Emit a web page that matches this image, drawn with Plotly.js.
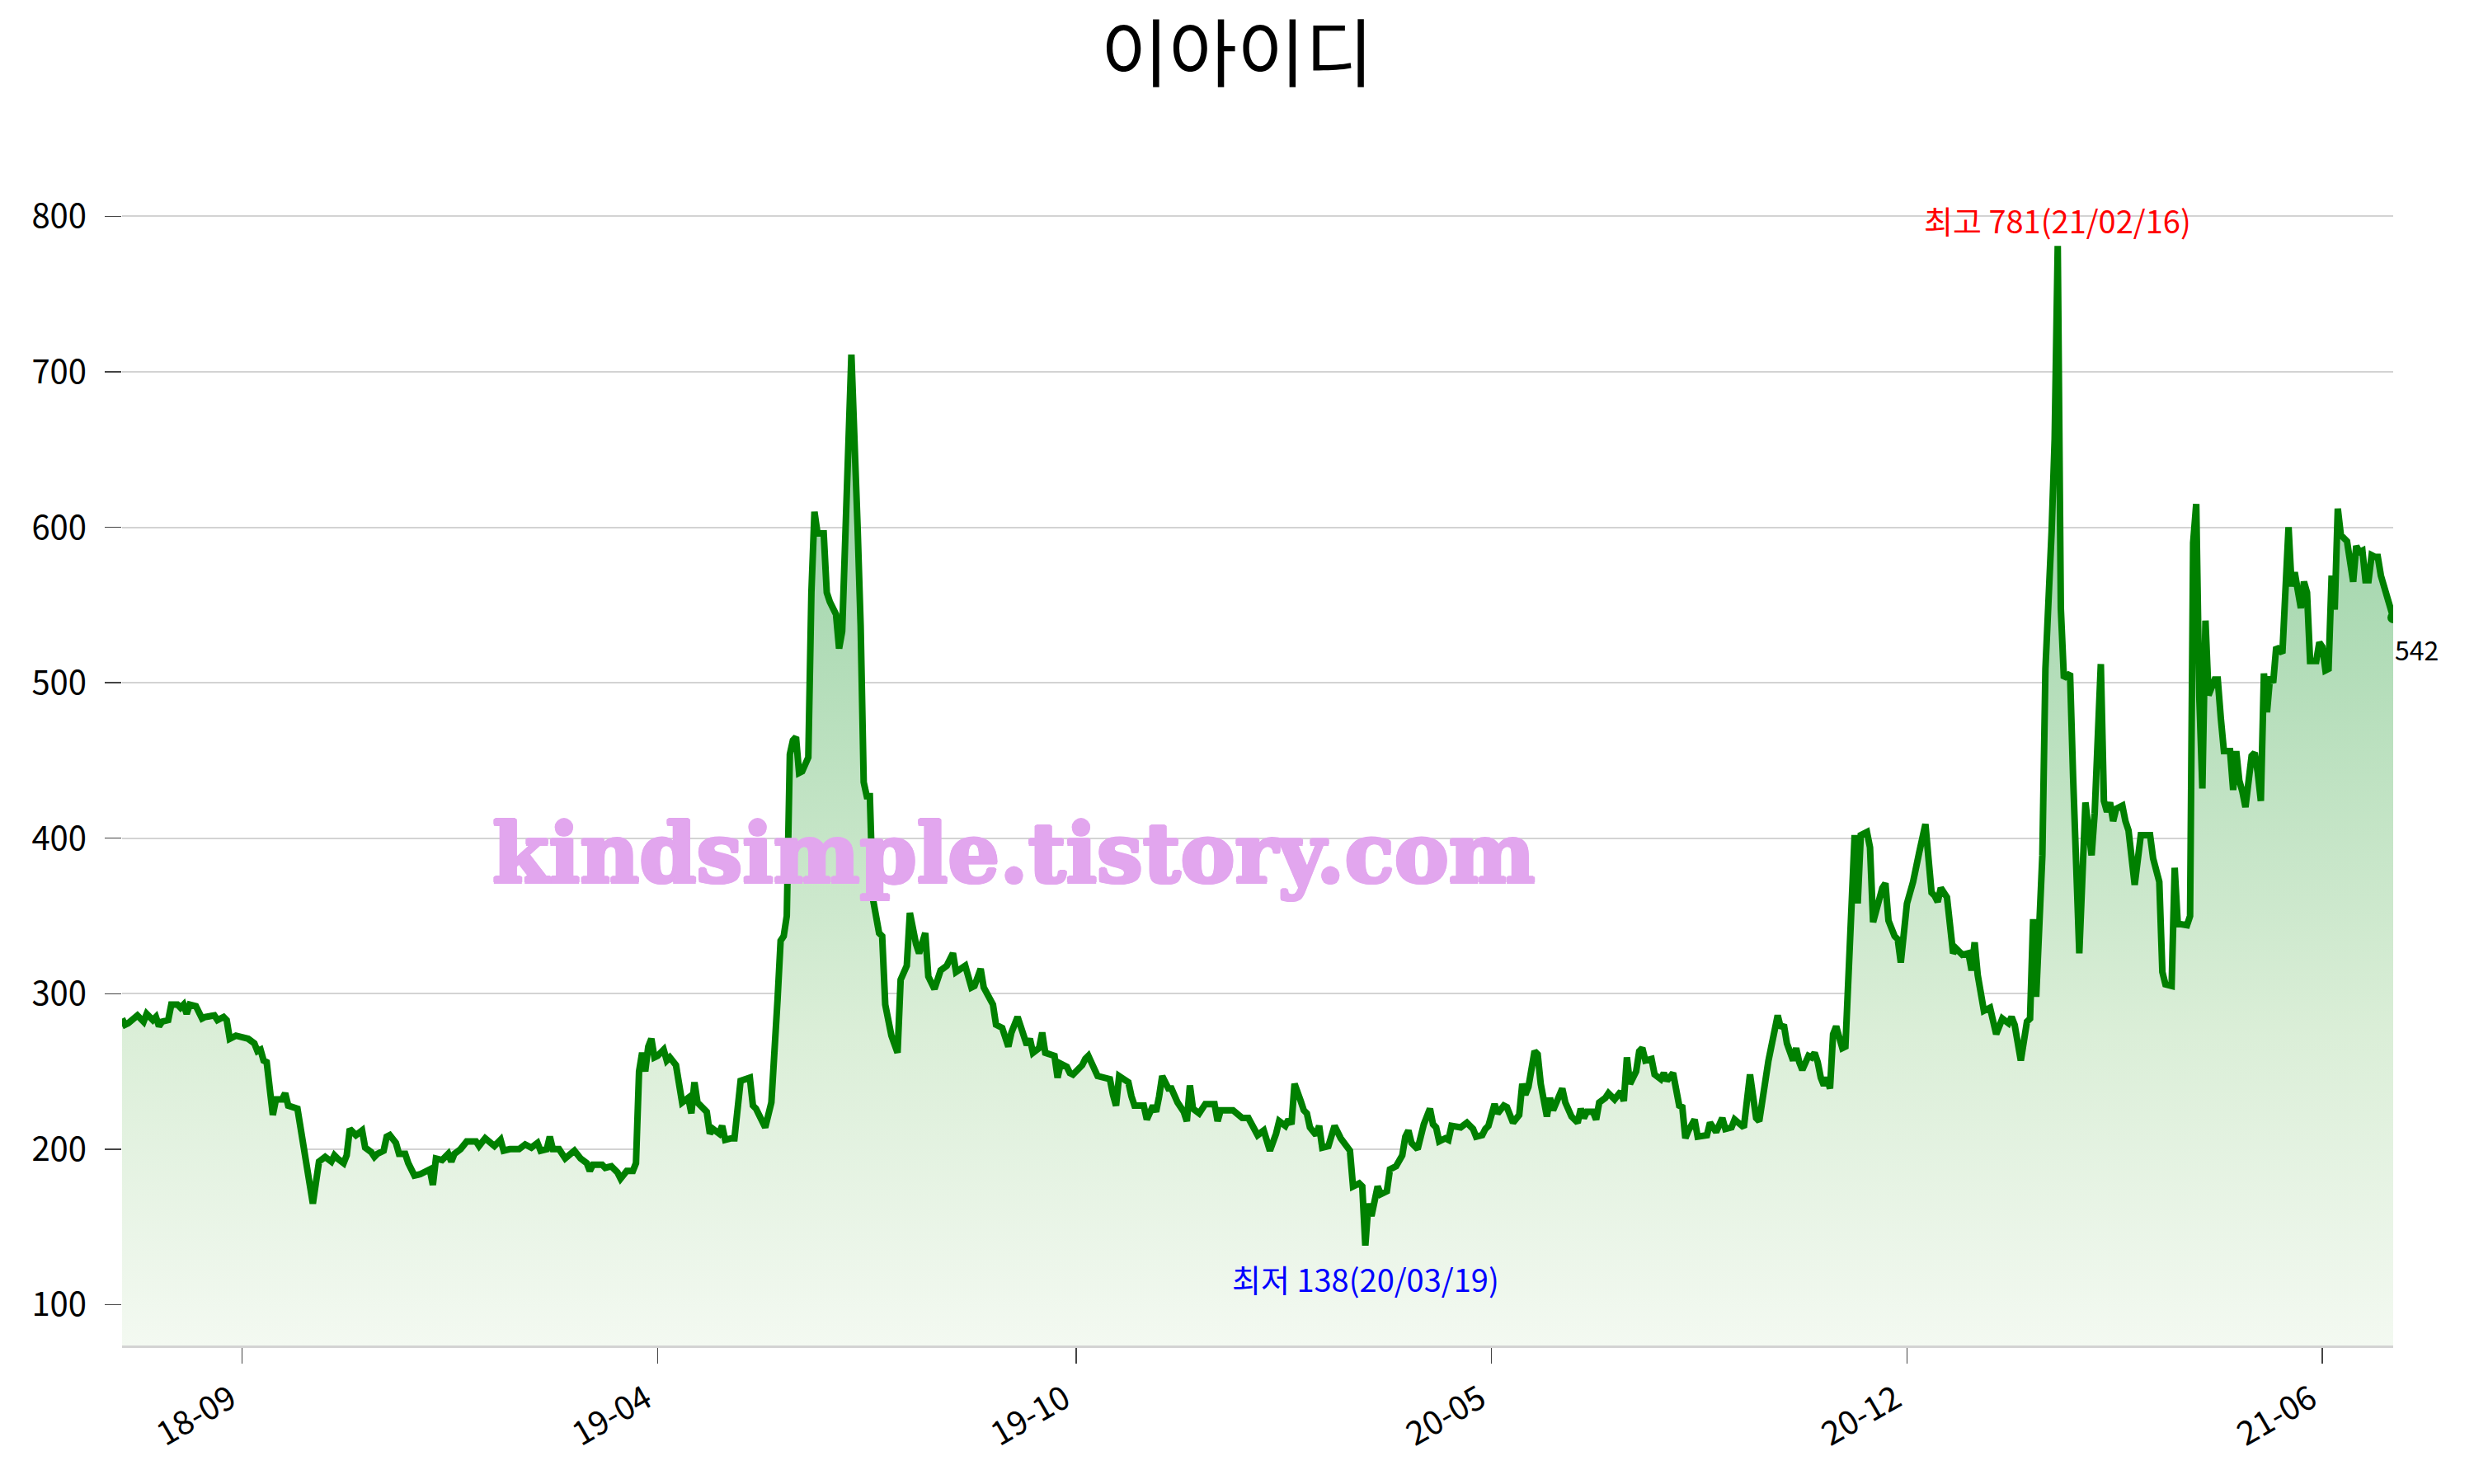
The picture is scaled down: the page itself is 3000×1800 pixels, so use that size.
<!DOCTYPE html>
<html><head><meta charset="utf-8">
<script src="https://cdn.plot.ly/plotly-3.0.1.min.js"></script>
<style>html,body{margin:0;padding:0;background:#fff}</style>
</head><body><div id="chart" style="width:3000px;height:1800px"></div>
<script>
const chartTitle = '이아이디';
const watermarkText = 'kindsimple.tistory.com';
const tickDays = [39, 174, 310, 445, 580, 715];
const tickLabels = ['18-09', '19-04', '19-10', '20-05', '20-12', '21-06'];
const highDate = '21/02/16';
const lowDate = '20/03/19';

const tradingDay = [
  0,1,2,3,5,6,7,8,9,10, 11,12,13,15,16,18,19,20,21,22, 24,26,27,29,30,31,33,34,35,37,
  41,43,44,45,46,47,48,49,50,52, 53,54,57,59,62,64,66,68,69,70, 71,72,73,74,76,78,79,81,82,83,
  85,86,87,89,90,92,93,94,95,97, 99,100,101,102,104,106,107,108,110,112, 115,116,118,121,123,124,126,129,131,133,
  135,136,138,139,140,142,144,147,149,151,
  152,153,156,157,159,161,162,164,166,167, 168,169,170,171,172,173,174,176,177,178, 180,182,184,185,186,187,190,191,192,194,
  195,196,198,199,201,202,204,205,206,209, 211,213,214,215,216,217,218,219,220,221, 223,224,225,226,228,229,230,232,233,234,
  235,237,239,240,241,242,243,244,246, 247,248,250,252,253,255,256,258,259,261, 262,264,266,268,270,271,274,276,277,279,
  280,283,284,286,288,289,291,292,
  294,295,296,298,299,300,303,304,305,307, 308,309,312,313,314,317,319,321,322,323, 324,327,328,329,332,333,335,336,337,338,
  340,341,343,345,346,347,348,350,352,355, 356,357,361,364,366,369,371,372,373,375, 376,378,379,380,381,383,384,385,386,388,
  389,390,392,394,396,399,400,402,403,404, 405,406,408,409,411,412,414,416,417,418, 419,421,422,423,425,426,427,428,430,431,
  432,435,437,439,440,442,443,444,446,447,
  449,450,452,454,455,456,457,459,460,461, 463,464,465,466,468,469,470,471,473,474, 475,476,478,479,480,482,483,485,487,488,
  489,490,492,493,494,495,497,498,500,501, 502,504,506,507,508,509,511,512,515,516, 518,520,521,523,524,527,529,530,531,532,
  534,535,538,539,540,541,543,544,545,546, 548,549,550,551,552,553,554,555,556,557, 559,560,563,564,565,567,568,569,572,573,
  574,576,577,578,580,582,584,586,588,589, 590,591,
  593,595,596,598,600,601,602,603,605,607, 609,611,613,614,615,617,619,620,621,622, 624,625,627,628,629,630,631,633,634,636,
  638,640,641,643,644,645,646,647,648,650, 651,652,654,656,659,660,662,663,664,666, 667,668,671,672,673,674,675,676,677,678,
  680,681,682,683,685,686,687,688,689,690, 692,693,694,695,696,697,698,699,700,702, 704,705,706,707,708,709,710,711,713,714,
  715,716,717,718,719,720,721,723,724,725, 726,727,728,729,730,731,732,733,734,735, 736,737,738
];

const closePrice = [
  284,280,281,283,286,284,282,287,285,283, 285,279,282,283,293,293,291,293,287,293, 292,284,285,285,286,283,285,283,271,273,
  271,268,263,264,257,256,240,222,232,232, 236,228,226,200,165,192,195,192,196,194, 193,191,196,213,209,212,201,198,195,197,
  199,208,209,204,197,197,191,187,183,184, 186,187,177,194,193,197,192,197,200,205, 205,202,207,202,206,199,200,200,203,201,
  204,199,200,208,200,200,194,199,194,191,
  186,190,190,188,189,185,181,186,186,191, 250,262,250,266,271,259,260,264,257,259, 254,230,233,223,243,230,224,210,213,210,
  215,206,207,207,244,245,246,228,226,214, 230,296,334,337,350,454,463,465,442,443, 452,558,610,596,596,558,552,544,522,533,
  587,711,601,537,436,427,427,361,339, 337,293,273,262,309,318,352,332,326,339, 311,303,315,318,326,314,318,304,305,316,
  304,293,280,278,266,275,285,279,
  267,271,262,265,275,262,260,246,255,253, 249,248,254,258,260,247,246,245,235,228, 247,243,234,228,228,219,228,224,234,247,
  239,239,230,224,218,241,226,223,229,229, 218,225,225,220,220,209,212,206,199,210, 218,215,219,216,242,231,225,223,214,209,
  215,201,202,215,207,199,176,178,176,138, 165,157,176,171,173,187,189,196,208,212, 204,200,209,216,226,216,214,205,207,206,
  215,214,217,213,208,209,213,215,229,223,
  228,227,217,222,242,235,240,263,261,242, 221,233,225,230,239,230,225,221,217,226, 220,224,224,219,230,233,236,232,237,231,
  259,242,250,263,265,257,258,248,245,249, 244,249,228,227,207,212,219,208,209,217, 211,220,213,214,219,214,248,236,220,218,
  243,257,286,278,280,268,257,265,256,251, 260,259,262,256,246,241,246,239,274,279, 265,266,402,358,402,404,394,346,368,371,
  347,337,335,320,358,372,391,409,365,363, 359,368,
  362,326,329,325,326,315,333,312,289,291, 274,284,281,285,280,257,282,284,348,298, 389,509,597,657,781,548,503,506,439,326,
  423,389,416,512,424,417,423,411,419,421, 411,405,370,402,402,387,372,314,306,305, 381,345,344,350,590,615,491,432,540,492,
  502,502,477,456,456,431,456,437,430,420, 453,455,442,424,506,481,504,500,523,519, 600,562,571,560,548,565,558,514,514,526,
  523,508,509,569,547,612,595,591,578,565, 588,584,585,566,566,582,581,581,569,562, 553,548,542
];

const FONT = "'Noto Sans CJK KR', 'Noto Sans', sans-serif";
const WM_COLOR = '#e2a6ee';

let hiI = 0, loI = 0;
closePrice.forEach((v, i) => { if (v > closePrice[hiI]) hiI = i; if (v < closePrice[loI]) loI = i; });
const lastI = closePrice.length - 1;
const yMin = 73.7, yMax = 845.3;

const traces = [
  {
    x: tradingDay, y: closePrice, type: 'scatter', mode: 'lines',
    line: {color: '#008000', width: 8},
    fill: 'tozeroy',
    fillgradient: {
      type: 'vertical', start: yMin, stop: closePrice[hiI],
      colorscale: [[0, 'rgb(243,249,241)'], [0.29, 'rgb(218,238,215)'], [0.69, 'rgb(170,217,178)'], [1, 'rgb(138,202,152)']]
    },
    hoverinfo: 'skip'
  },
  {
    x: [tradingDay[lastI]], y: [closePrice[lastI]], type: 'scatter', mode: 'markers',
    marker: {color: '#008000', size: 14}, hoverinfo: 'skip'
  }
];

const wmShadow = ['2px 0 0', '-2px 0 0', '0 2px 0', '0 -2px 0', '1.5px 1.5px 0', '-1.5px -1.5px 0', '1.5px -1.5px 0', '-1.5px 1.5px 0']
  .map(s => s + ' ' + WM_COLOR).join(', ');

const layout = {
  width: 3000, height: 1800, autosize: false,
  paper_bgcolor: '#fff', plot_bgcolor: 'rgba(0,0,0,0)',
  showlegend: false,
  margin: {l: 148, r: 98, t: 177, b: 168, pad: 0},
  title: {text: chartTitle, font: {family: FONT, size: 90, color: '#000'},
          x: 0.5, xref: 'container', xanchor: 'center', y: 1 - 66 / 1800, yref: 'container', yanchor: 'middle'},
  font: {family: FONT, color: '#000'},
  xaxis: {
    range: [0, tradingDay[lastI]], tickvals: tickDays, ticktext: tickLabels, tickangle: -30,
    ticks: 'outside', ticklen: 19, tickwidth: 1.5, tickcolor: '#444',
    showgrid: false, zeroline: false, showline: true, linecolor: '#d3d3d3', linewidth: 3,
    tickfont: {family: FONT, size: 40, color: '#000'}, ticklabelstandoff: 4, ticklabelshift: -14
  },
  yaxis: {
    range: [yMin, yMax], tick0: 0, dtick: 100,
    ticks: 'outside', ticklen: 20, tickwidth: 1.5, tickcolor: '#444',
    showgrid: true, gridcolor: '#d3d3d3', gridwidth: 2, zeroline: false, showline: false,
    tickfont: {family: FONT, size: 40, color: '#000'}, ticklabelstandoff: 14
  },
  annotations: [
    {x: tradingDay[hiI], y: closePrice[hiI], xref: 'x', yref: 'y', showarrow: false,
     text: '최고 ' + closePrice[hiI] + '(' + highDate + ')', font: {family: FONT, size: 38, color: '#ff0000'},
     xanchor: 'center', yanchor: 'bottom', yshift: 2},
    {x: tradingDay[loI], y: closePrice[loI], xref: 'x', yref: 'y', showarrow: false,
     text: '최저 ' + closePrice[loI] + '(' + lowDate + ')', font: {family: FONT, size: 38, color: '#0000ff'},
     xanchor: 'center', yanchor: 'top', yshift: -10},
    {x: tradingDay[lastI], y: closePrice[lastI], xref: 'x', yref: 'y', showarrow: false,
     text: String(closePrice[lastI]), font: {family: FONT, size: 32, color: '#000'},
     xanchor: 'left', yanchor: 'top', yshift: -13, xshift: 0},
    {x: 0.3925, y: 0.41, xref: 'paper', yref: 'paper', showarrow: false,
     text: watermarkText, font: {family: "'DejaVu Serif', serif", size: 99, color: WM_COLOR, weight: 'bold', shadow: wmShadow},
     xanchor: 'center', yanchor: 'middle'}
  ]
};

Plotly.newPlot('chart', traces, layout, {staticPlot: true, displayModeBar: false});
</script>
</body></html>
